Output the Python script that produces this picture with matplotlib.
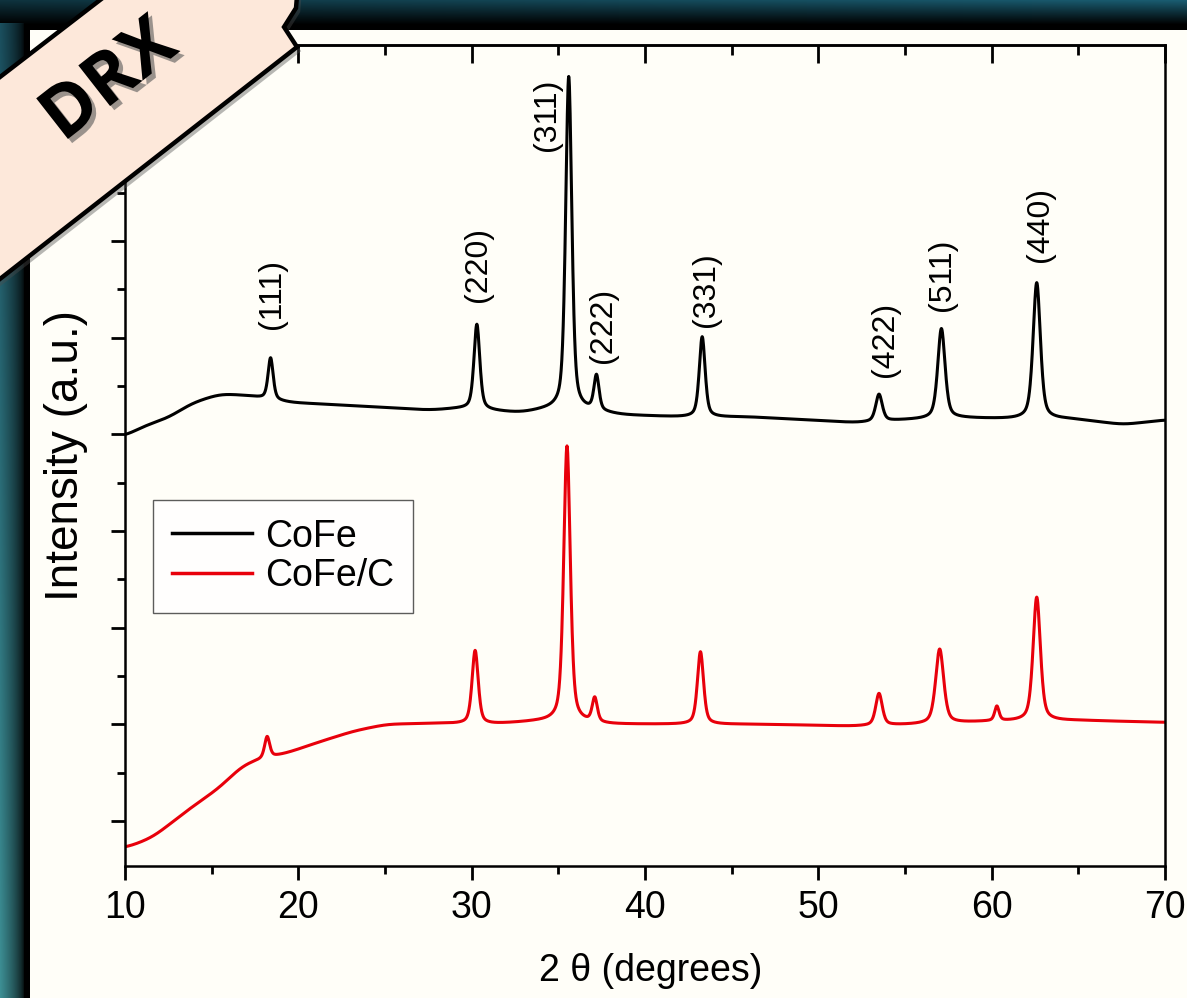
import numpy as np
import matplotlib

matplotlib.use("Agg")
import matplotlib.pyplot as plt  # noqa: E402
import matplotlib.patheffects as pe  # noqa: E402
from matplotlib.patches import Polygon, Rectangle  # noqa: E402
from matplotlib.ticker import MultipleLocator, NullFormatter  # noqa: E402

W, H = 1187, 998

# ---- values ----
# CoFe: smooth background (2theta, intensity) + reflections
cofe_bg_theta = [10, 11, 12.6, 13.8, 15.5, 17.2, 19.5, 21.8, 24.7, 27.6, 29.5, 32.8, 34.5,
                 37, 38.6, 42, 46, 49.3, 52.2, 55, 58, 61, 64.7, 67.6, 70]
cofe_bg_int = [3.98, 4.08, 4.18, 4.32, 4.42, 4.40, 4.33, 4.31, 4.28, 4.25, 4.27, 4.22, 4.26,
               4.24, 4.20, 4.18, 4.18, 4.15, 4.12, 4.15, 4.17, 4.16, 4.16, 4.10, 4.15]
cofe_peak_pos = [18.4, 30.3, 35.6, 37.2, 43.3, 53.5, 57.1, 62.6]
cofe_peak_height = [0.43, 0.88, 3.45, 0.36, 0.83, 0.28, 0.93, 1.41]
cofe_peak_fwhm = [0.35, 0.40, 0.42, 0.35, 0.40, 0.45, 0.50, 0.50]

# CoFe/C: amorphous-carbon hump background + reflections
cofec_bg_theta = [10, 11.6, 13.6, 15.5, 16.8, 17.8, 19.3, 21.25, 23.2, 25.1, 28, 31, 34,
                  38, 42, 47, 52, 56, 60, 65, 70]
cofec_bg_int = [-0.28, -0.17, 0.11, 0.35, 0.58, 0.64, 0.70, 0.82, 0.93, 1.00, 1.01, 1.00, 1.03,
                1.00, 1.00, 1.00, 0.98, 1.00, 1.03, 1.04, 1.02]
cofec_peak_pos = [18.2, 30.2, 35.5, 37.1, 43.2, 53.5, 57.0, 60.3, 62.6]
cofec_peak_height = [0.22, 0.76, 2.86, 0.25, 0.75, 0.33, 0.77, 0.15, 1.28]
cofec_peak_fwhm = [0.35, 0.42, 0.45, 0.35, 0.42, 0.45, 0.55, 0.30, 0.50]

hkl_labels = ["(111)", "(220)", "(311)", "(222)", "(331)", "(422)", "(511)", "(440)"]
hkl_x = [18.48, 30.37, 34.35, 37.58, 43.5, 53.85, 57.14, 62.8]
hkl_y = [5.45, 5.76, 7.31, 5.13, 5.50, 4.98, 5.65, 6.17]

series_names = ["CoFe", "CoFe/C"]
series_colors = ["#000000", "#e8000b"]

CREAM = "#fffef8"
FONT = ["Liberation Sans", "DejaVu Sans"]


def pattern(theta, bg_t, bg_i, pos, height, fwhm, eta=0.5):
    # smooth the piecewise background a little so it has no kinks
    base = np.interp(theta, bg_t, bg_i)
    k = np.exp(-0.5 * (np.arange(-60, 61) / 25.0) ** 2)
    k /= k.sum()
    padded = np.concatenate([np.full(60, base[0]), base, np.full(60, base[-1])])
    y = np.convolve(padded, k, mode="valid")
    for p, h, w in zip(pos, height, fwhm):
        u = (theta - p) / w
        y = y + h * (eta / (1 + 4 * u**2) + (1 - eta) * np.exp(-4 * np.log(2) * u**2))
    return y


theta = np.arange(10, 70.001, 0.02)
curves = [
    pattern(theta, cofe_bg_theta, cofe_bg_int, cofe_peak_pos, cofe_peak_height, cofe_peak_fwhm),
    pattern(theta, cofec_bg_theta, cofec_bg_int, cofec_peak_pos, cofec_peak_height, cofec_peak_fwhm),
]

fig = plt.figure(figsize=(W / 100, H / 100), dpi=100, facecolor="black")

# slide-style background: teal bands, black border, cream panel
bg = fig.add_axes([0, 0, 1, 1], zorder=-10)
img = np.zeros((H, W, 3))
rows = np.arange(H)[:, None]
cols = np.arange(W)[None, :]
teal_top = np.array([0.10, 0.36, 0.44])
fade_top = np.clip(1 - rows / 24.0, 0, 1) * (0.55 + 0.45 * cols / W)
img += fade_top[..., None] * teal_top
teal_left = np.array([0.10, 0.30, 0.36]) + (rows / H)[..., None] * np.array([0.14, 0.26, 0.22])
fade_left = np.clip(1 - cols / 24.0, 0, 1) ** 0.6
img += (fade_left[..., None] * teal_left) * (rows > 22)[..., None]
bg.imshow(np.clip(img, 0, 1), extent=(0, W, H, 0), aspect="auto")
bg.add_patch(Rectangle((30, 30), W, H, facecolor=CREAM, edgecolor="none"))
bg.set_xlim(0, W)
bg.set_ylim(H, 0)
bg.axis("off")

ax = fig.add_axes([125 / W, 1 - 866 / H, 1040 / W, 821 / H])
ax.set_facecolor(CREAM)
for y, name, color in zip(curves, series_names, series_colors):
    ax.plot(theta, y, color=color, lw=2.2, label=name)

for lab, x, y in zip(hkl_labels, hkl_x, hkl_y):
    ax.text(x, y, lab, rotation=90, ha="center", va="center", fontsize=23, family=FONT)

ax.set_xlim(10, 70)
ax.set_ylim(-0.466, 8.03)
ax.xaxis.set_major_locator(MultipleLocator(10))
ax.xaxis.set_minor_locator(MultipleLocator(5))
ax.yaxis.set_major_locator(MultipleLocator(1))
ax.yaxis.set_minor_locator(MultipleLocator(0.5))
ax.yaxis.set_major_formatter(NullFormatter())
ax.tick_params(which="both", direction="out", width=2, top=False, right=False)
ax.tick_params(which="major", length=10)
ax.tick_params(which="minor", length=6)
ax.tick_params(axis="x", labelsize=27, pad=7)
for lbl in ax.get_xticklabels():
    lbl.set_family(FONT)
for sp in ax.spines.values():
    sp.set_linewidth(1.8)

top = ax.secondary_xaxis("top")
top.xaxis.set_major_locator(MultipleLocator(10))
top.xaxis.set_minor_locator(MultipleLocator(5))
top.tick_params(which="both", direction="in", width=2, labeltop=False)
top.tick_params(which="major", length=13)
top.tick_params(which="minor", length=7)
top.spines["top"].set_linewidth(1.8)

ax.set_xlabel("2 \u03b8 (degrees)", fontsize=27, family=FONT)
ax.xaxis.set_label_coords(0.505, -0.106)
ax.set_ylabel("Intensity (a.u.)", fontsize=33, family=FONT)
ax.yaxis.set_label_coords(-0.036, 0.5)

leg = ax.legend(loc="upper left", bbox_to_anchor=(0.027, 0.446), borderaxespad=0,
                frameon=True, fancybox=False, handlelength=2.15, handletextpad=0.35,
                borderpad=0.5, labelspacing=0.1, prop={"family": FONT, "size": 27})
leg.get_frame().set_edgecolor("#333333")
leg.get_frame().set_linewidth(1.0)
leg.get_frame().set_facecolor("white")
for h in leg.get_lines():
    h.set_linewidth(2.5)

# "DRX" tag in the top-left corner
ov = fig.add_axes([0, 0, 1, 1], zorder=10)
ov.set_xlim(0, W)
ov.set_ylim(H, 0)
ov.axis("off")
ov.patch.set_alpha(0)
tag = Polygon([(-100, 357), (297, 47), (284, 27), (296, 8), (300, -40), (152, -40), (-100, 154)],
              closed=True, facecolor="#fde8da", edgecolor="black", lw=3.2,
              path_effects=[pe.withSimplePatchShadow(offset=(3, -3), shadow_rgbFace="0.3", alpha=0.4)])
ov.add_patch(tag)
ov.text(110, 82, "DRX", rotation=38, ha="center", va="center", fontsize=52, fontweight="bold",
        family=["Open Sans", "DejaVu Sans"],
        path_effects=[pe.withSimplePatchShadow(offset=(3, -3), shadow_rgbFace="0.35", alpha=0.6)])

fig.savefig("out.png", dpi=100, facecolor=fig.get_facecolor())
